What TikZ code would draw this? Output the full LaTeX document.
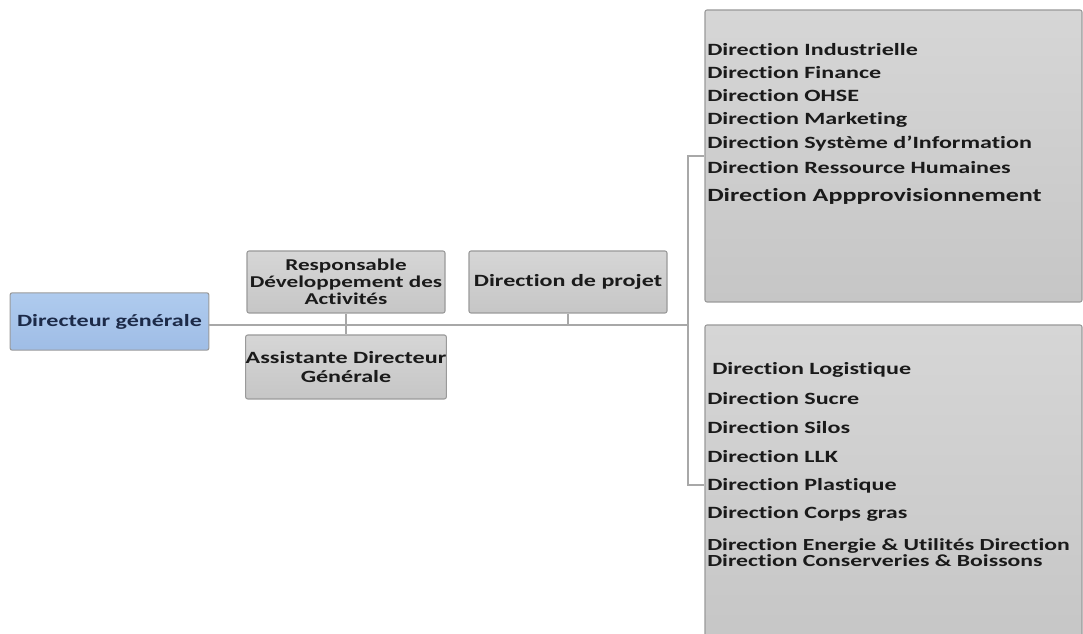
\documentclass[tikz,border=0pt]{standalone}
\usepackage{fontspec}
\setmainfont[FakeStretch=1.4, Ligatures=NoCommon]{Carlito}
\begin{document}
\begin{tikzpicture}[x=0.75pt,y=-0.75pt,
  every node/.style={font=\bfseries\fontsize{12.9}{13}\selectfont, inner sep=0pt},
  orgbox/.style={draw=boxline, line width=0.8pt, rounded corners=1.5pt,
    top color=boxtop, bottom color=boxbot, text=txt, align=center},
  bluebox/.style={orgbox, top color=bluetop, bottom color=bluebot, text=navy},
  item/.style={anchor=west, text=txt},
  link/.style={draw=linegray, line width=1pt},
  mainlink/.style={draw=linegray, line width=2pt}
]
\definecolor{boxline}{HTML}{9A9A9A}
\definecolor{boxtop}{HTML}{D6D6D6}
\definecolor{boxbot}{HTML}{C6C6C6}
\definecolor{bluetop}{HTML}{AFCBEE}
\definecolor{bluebot}{HTML}{9FBDE6}
\definecolor{navy}{HTML}{1C2A48}
\definecolor{txt}{HTML}{1A1A1A}
\definecolor{linegray}{HTML}{A8A8A8}

\useasboundingbox (0,0) rectangle (1083,634);

% left part of the chart
\node[bluebox, minimum width=149pt, minimum height=43pt] (dg) at (109.5,321.5) {Directeur générale};
\node[orgbox, minimum width=148.5pt, minimum height=46.5pt,
      font=\bfseries\fontsize{12.4}{12.6}\selectfont] (resp) at (346,282)
  {Responsable\\Développement des\\Activités};
\node[orgbox, minimum width=148.5pt, minimum height=48pt] (asst) at (346,367)
  {Assistante Directeur\\[1pt]Générale};
\node[orgbox, minimum width=148.5pt, minimum height=46.5pt] (proj) at (568,282) {Direction de projet};

% the two large groups of directions
\node[orgbox, minimum width=282.75pt, minimum height=219pt] (grpa) at (893.5,156) {};
\node[orgbox, minimum width=282.75pt, minimum height=240pt] (grpb) at (893.5,485) {};

% connectors
\coordinate (bus) at (688,325);
\draw[mainlink] (dg.east |- bus) -- (bus);
\draw[link] (resp.south) -- (asst.north);
\draw[link] (proj.south) -- (proj.south |- bus);
\draw[link] (grpa.west) -| (bus) |- (grpb.west);

% first group
\node[item] (a1) at (707,50) {Direction Industrielle};
\node[item] (a2) at (707,73) {Direction Finance};
\node[item] (a3) at (707,96) {Direction OHSE};
\node[item] (a4) at (707,120) {Direction Marketing};
\node[item] (a5) at (707,144) {Direction Système d'Information};
\node[item] (a6) at (707,168) {Direction Ressource Humaines};
\node[item, font=\bfseries\fontsize{14}{15}\selectfont] (a7) at (707,196) {Direction Appprovisionnement};

% second group
\node[item] (b1) at (712,370) {Direction Logistique};
\node[item] (b2) at (707,399) {Direction Sucre};
\node[item] (b3) at (707,428) {Direction Silos};
\node[item] (b4) at (707,457) {Direction LLK};
\node[item] (b5) at (707,486) {Direction Plastique};
\node[item] (b6) at (707,514) {Direction Corps gras};
\node[item, align=left, font=\bfseries\fontsize{12.7}{12}\selectfont] (b7) at (707,553)
  {Direction Energie \& Utilités Direction\\Direction Conserveries \& Boissons};
\end{tikzpicture}
\end{document}
